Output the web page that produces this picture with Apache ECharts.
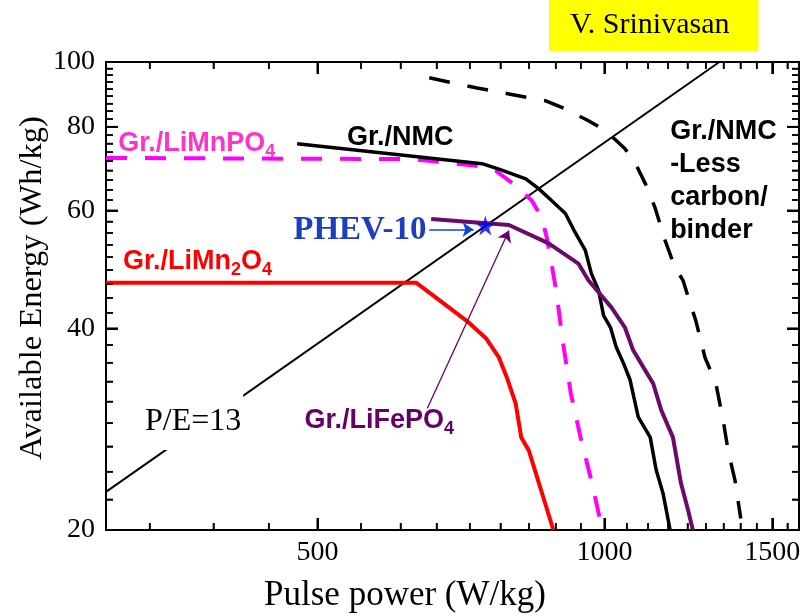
<!DOCTYPE html>
<html>
<head>
<meta charset="utf-8">
<script src="https://cdn.jsdelivr.net/npm/echarts@6/dist/echarts.min.js"></script>
<style>
  html, body { margin: 0; padding: 0; background: #fff; }
  #chart { width: 802px; height: 616px; }
</style>
</head>
<body>
<div id="chart"></div>
<script>
// Pulse power (W/kg) against available energy (Wh/kg) for several Li-ion couples.
const grNmc = [[476,75.5],[744,70.5],[775,69.2],[827,66.9],[853,64.7],[880,62.1],[910,59.4],[932,55.6],[955,52.3],[969,48.3],[986,45.6],[998,41.8],[1015,40.1],[1029,37.5],[1047,35.5],[1064,33.5],[1085,29.5],[1117,27.5],[1133,24.6],[1152,22.7],[1172,20]];
const grLiMnPO4 = [[300,71.9],[629,71.6],[733,70.0],[769,68.8],[800,66.0],[839,62.1],[859,58.6],[870,54.7],[880,50.0],[891,45.1],[903,38.8],[922,32.0],[944,27.5],[969,23.7],[995,20]];
const grLiFePO4 = [[658,58.3],[794,57.1],[874,53.6],[939,50.0],[962,47.2],[1017,43.0],[1051,40.1],[1072,37.1],[1104,34.6],[1125,33.1],[1147,30.2],[1180,27.5],[1203,23.5],[1224,21.4],[1238,20]];
const grLiMn2O4 = [[300,46.8],[635,46.8],[721,40.8],[752,38.6],[775,36.2],[790,33.8],[807,30.9],[818,27.5],[833,26.3],[884,20]];
const grNmcLessBinder = [[655,94.7],[733,91.5],[794,89.6],[868,87.5],[910,85.1],[962,81.7],[1003,79.0],[1051,74.2],[1077,70.7],[1104,65.8],[1130,60.6],[1158,54.1],[1186,49.3],[1209,47.2],[1232,43.3],[1247,41.1],[1275,36.2],[1309,33.1],[1332,29.2],[1348,26.3],[1371,23.7],[1390,20.8]];
const peRatioLine = [[300,22.8],[1320,100]];
const phev10Target = [[750,57]];

// Axis ranges and labelled ticks
const xRange = [300, 1600];
const yRange = [20, 100];
const xMajorTicks = [500, 1000, 1500];
const yMajorTicks = [20, 40, 60, 80, 100];
const minorPerMajor = 9; // each labelled interval is split into nine

const serif = '"Liberation Serif", "Times New Roman", serif';
const sans = '"Liberation Sans", Arial, sans-serif';

// Build tick lists (major flagged with 1, minor with 0)
function buildTicks(majors, lo, hi) {
  const step = (majors[1] - majors[0]) / minorPerMajor;
  const out = [];
  for (let v = majors[0] - step; v > lo + 1e-6; v -= step) out.push([v, 0]);
  majors.forEach((m, i) => {
    out.push([m, 1]);
    const next = i + 1 < majors.length ? majors[i + 1] : hi;
    for (let k = 1; k < minorPerMajor; k++) {
      const v = m + k * step;
      if (v < next - 1e-6 && v < hi - 1e-6) out.push([v, 0]);
    }
  });
  return out;
}
const xTicks = buildTicks(xMajorTicks, xRange[0], xRange[1]);
const yTicks = buildTicks(yMajorTicks, yRange[0], yRange[1]);

const gridBox = { left: 106, right: 3, top: 62, bottom: 86, show: true, borderColor: '#000', borderWidth: 2, backgroundColor: 'transparent' };
const axisBase = {
  type: 'log', logBase: 10,
  axisLine: { show: false }, axisTick: { show: false }, axisLabel: { show: false }, splitLine: { show: false }
};
const xAxisOpt = Object.assign({ min: xRange[0], max: xRange[1] }, axisBase);
const yAxisOpt = Object.assign({ min: yRange[0], max: yRange[1] }, axisBase);

function curve(name, data, color, width, dashed) {
  return {
    name, type: 'line', data,
    symbol: 'none', showSymbol: false, smooth: false, clip: true, z: 3,
    lineStyle: { color, width, type: dashed ? [21, 18] : 'solid', cap: 'butt', join: 'round' }
  };
}

const chart = echarts.init(document.getElementById('chart'), null, { renderer: 'canvas' });

// Layout pass: grid and axes only, so tick positions can be read back from the scales
chart.setOption({
  animation: false,
  grid: gridBox, xAxis: xAxisOpt, yAxis: yAxisOpt,
  series: [curve('P/E=13', peRatioLine, '#000', 2, false)]
});
const toPx = (x, y) => chart.convertToPixel({ gridIndex: 0 }, [x, y]);
const fromPx = (px, py) => chart.convertFromPixel({ gridIndex: 0 }, [px, py]);

const tickSegments = [];
const tickRects = [];
const tickLabels = [];
function addTick(a, b, pa, pb, major) {
  const w = major ? 2 : 1.5;
  tickSegments.push([{ coord: a, lineStyle: { width: w, color: '#000', type: 'solid' } }, { coord: b }]);
  const x = Math.min(pa[0], pb[0]), y = Math.min(pa[1], pb[1]);
  const vertical = Math.abs(pa[0] - pb[0]) < 0.5;
  tickRects.push({ type: 'rect', shape: vertical
    ? { x: x - w / 2, y, width: w, height: Math.abs(pa[1] - pb[1]) }
    : { x, y: y - w / 2, width: Math.abs(pa[0] - pb[0]), height: w }, style: { fill: '#000' } });
}
xTicks.forEach(([v, major]) => {
  const len = major ? 12 : 7;
  const b = toPx(v, yRange[0]), t = toPx(v, yRange[1]);
  const bEnd = [b[0], b[1] - len], tEnd = [t[0], t[1] + len];
  addTick([v, yRange[0]], [v, fromPx(bEnd[0], bEnd[1])[1]], b, bEnd, major);
  addTick([v, yRange[1]], [v, fromPx(tEnd[0], tEnd[1])[1]], t, tEnd, major);
  if (major) {
    tickLabels.push({ type: 'text', silent: true, x: b[0], y: b[1] + 9,
      style: { text: String(v), align: 'center', verticalAlign: 'top', fontFamily: serif, fontSize: 28, fill: '#000' } });
  }
});
yTicks.forEach(([v, major]) => {
  const len = major ? 12 : 7;
  const l = toPx(xRange[0], v), r = toPx(xRange[1], v);
  const lEnd = [l[0] + len, l[1]], rEnd = [r[0] - len, r[1]];
  addTick([xRange[0], v], [fromPx(lEnd[0], lEnd[1])[0], v], l, lEnd, major);
  addTick([xRange[1], v], [fromPx(rEnd[0], rEnd[1])[0], v], r, rEnd, major);
  if (major) {
    tickLabels.push({ type: 'text', silent: true, x: l[0] - 11, y: l[1],
      style: { text: String(v), align: 'right', verticalAlign: 'middle', fontFamily: serif, fontSize: 28, fill: '#000' } });
  }
});

// Curve captions, anchored in data space (left edge, vertical middle)
function subRich(color, size) {
  return {
    m: { fontFamily: sans, fontWeight: 'bold', fontSize: size, fill: color },
    s: { fontFamily: sans, fontWeight: 'bold', fontSize: Math.round(size * 0.66), fill: color, padding: [16, 0, 0, 0] }
  };
}
const captions = [
  { at: [537, 77.0], text: '{m|Gr./NMC}', rich: subRich('#000', 27) },
  { at: [309, 75.5], text: '{m|Gr./LiMnPO}{s|4}', rich: subRich('#ff33cc', 27) },
  { at: [312.6, 50.3], text: '{m|Gr./LiMn}{s|2}{m|O}{s|4}', rich: subRich('#ff0000', 27) },
  { at: [484.6, 29.1], text: '{m|Gr./LiFePO}{s|4}', rich: subRich('#660066', 27) },
  { at: [1172, 66.5], text: 'Gr./NMC\n-Less\ncarbon/\nbinder', font: { fontFamily: sans, fontWeight: 'bold', fontSize: 27, lineHeight: 33, fill: '#000' } },
  { at: [471.6, 56.0], text: 'PHEV-10', font: { fontFamily: serif, fontWeight: 'bold', fontSize: 33, fill: '#1c3fc2' } },
  { at: [328, 29.0], text: 'P/E=13', font: { fontFamily: serif, fontSize: 32, fill: '#000', backgroundColor: '#fff', padding: [14, 2, 10, 2] } }
];

const captionSeries = {
  type: 'custom', silent: true, z: 8, clip: false,
  data: captions.map((c, i) => [c.at[0], c.at[1], i]),
  renderItem(params, api) {
    const c = captions[api.value(2)];
    const p = api.coord([api.value(0), api.value(1)]);
    const style = Object.assign({ text: c.text, x: p[0], y: p[1], align: 'left', verticalAlign: 'middle' }, c.font || {});
    if (c.rich) style.rich = c.rich;
    return { type: 'text', style };
  }
};

const starPath = 'path://M50,0 L61,35 L98,35 L68,57 L79,91 L50,70 L21,91 L32,57 L2,35 L39,35 Z';

// Full chart, set in one go
chart.setOption({
  animation: false,
  backgroundColor: '#fff',
  title: {
    text: 'V. Srinivasan',
    left: 549, top: 0,
    backgroundColor: '#ffff00',
    padding: [10, 29, 11, 21],
    textStyle: { fontFamily: serif, fontSize: 30, fontWeight: 'normal', color: '#000', lineHeight: 30 }
  },
  grid: gridBox, xAxis: xAxisOpt, yAxis: yAxisOpt,
  graphic: tickRects.concat([
    { type: 'text', x: 405, y: 596, silent: true,
      style: { text: 'Pulse power (W/kg)', align: 'center', verticalAlign: 'middle', fontFamily: serif, fontSize: 35, fill: '#000' } },
    { type: 'text', x: 32, y: 288, rotation: Math.PI / 2, silent: true,
      style: { text: 'Available Energy (Wh/kg)', align: 'center', verticalAlign: 'middle', fontFamily: serif, fontSize: 32.5, fill: '#000' } }
  ]).concat(tickLabels),
  series: [
    Object.assign(curve('P/E=13', peRatioLine, '#000', 2, false), {
      markLine: {
        silent: true, animation: false,
        symbol: ['none', 'none'],
        label: { show: false },
        lineStyle: { color: '#000', width: 1.5, type: 'solid' },
        data: tickSegments
      }
    }),
    curve('Gr./NMC -Less carbon/binder', grNmcLessBinder, '#000', 3.5, true),
    curve('Gr./LiMn2O4', grLiMn2O4, '#ff0000', 4, false),
    curve('Gr./LiMnPO4', grLiMnPO4, '#ff00ff', 4, true),
    curve('Gr./NMC', grNmc, '#000', 3.5, false),
    Object.assign(curve('Gr./LiFePO4', grLiFePO4, '#6a0a6a', 4, false), {
      markLine: {
        silent: true, animation: false,
        symbol: ['none', 'arrow'], symbolSize: 11,
        label: { show: false },
        lineStyle: { color: '#660066', width: 1.3, type: 'solid' },
        data: [[{ coord: [652, 30.4] }, { coord: [794, 56.0] }]]
      }
    }),
    {
      name: 'PHEV-10', type: 'scatter', data: phev10Target, z: 7,
      symbol: starPath, symbolSize: 20,
      itemStyle: { color: '#0000ff' },
      markLine: {
        silent: true, animation: false,
        symbol: ['none', 'arrow'], symbolSize: 11,
        label: { show: false },
        lineStyle: { color: '#1144dd', width: 1.5, type: 'solid' },
        data: [[{ coord: [655, 56.2] }, { coord: [729, 56.2] }]]
      }
    },
    captionSeries
  ]
}, true);
</script>
</body>
</html>
